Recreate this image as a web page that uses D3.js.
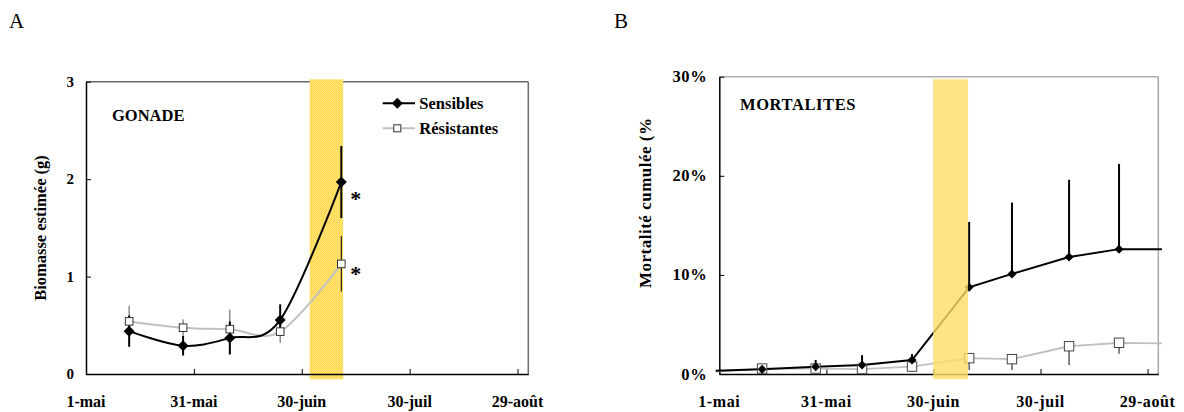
<!DOCTYPE html>
<html>
<head>
<meta charset="utf-8">
<script src="https://cdn.jsdelivr.net/npm/d3@7"></script>
<style>
  body { margin: 0; background: #fff; }
  svg { display: block; }
  text { font-family: "Liberation Serif", "Times New Roman", serif; }
</style>
</head>
<body>
<svg id="chart" width="1184" height="412"></svg>
<script>
// days counted from 1-mai
const tickDays = [0, 30, 60, 90, 120];
const tickLabels = ["1-mai", "31-mai", "30-juin", "30-juil", "29-août"];

// A : gonade biomass (g)
const gDays = [12, 27, 40, 54, 71];
const gSens = [0.44, 0.29, 0.37, 0.555, 1.97];
const gSensErr = [0.16, 0.10, 0.17, 0.16, 0.37];
const gRes = [0.54, 0.475, 0.46, 0.435, 1.13];
const gResErr = [0.16, 0.085, 0.20, 0.115, 0.285];
const gSignif = [false, false, false, false, true];
const gBand = [62.2, 71.5];

// B : cumulated mortality (%)
const mDays = [-1, 12, 27, 40, 54, 70, 82, 98, 112, 124];
const mSens = [0.33, 0.47, 0.72, 0.9, 1.41, 8.75, 10.1, 11.8, 12.6, 12.6];
const mSensErr = [0, 0.4, 0.7, 1.0, 0.6, 6.6, 7.2, 7.8, 8.6, 0];
const mRes = [0.25, 0.55, 0.55, 0.5, 0.75, 1.6, 1.5, 2.8, 3.15, 3.1];
const mResErr = [0, 0, 0, 0, 0, 1.2, 1.1, 1.9, 1.1, 0];
const mBand = [59.9, 69.7];

const svg = d3.select("#chart");
svg.append("rect").attr("width", 1184).attr("height", 412).attr("fill", "#fff");

// dithered yellow like the original export
const defs = svg.append("defs");
const pat = defs.append("pattern").attr("id", "band").attr("patternUnits", "userSpaceOnUse")
  .attr("width", 2).attr("height", 2);
pat.append("rect").attr("width", 2).attr("height", 2).attr("fill", "#ffe37c");
pat.append("rect").attr("width", 1).attr("height", 1).attr("fill", "#ffd84a");
pat.append("rect").attr("x", 1).attr("y", 1).attr("width", 1).attr("height", 1).attr("fill", "#ffd84a");

function panel(cfg) {
  const x = d3.scaleLinear().domain([0, 123]).range([cfg.left, cfg.right]);
  const y = d3.scaleLinear().domain([0, cfg.ymax]).range([cfg.bottom, cfg.top]);
  const g = svg.append("g");

  // frame
  g.append("line").attr("x1", cfg.left).attr("x2", cfg.right).attr("y1", cfg.top).attr("y2", cfg.top)
    .attr("stroke", cfg.frameTop).attr("stroke-width", 1.5);
  g.append("line").attr("x1", cfg.right).attr("x2", cfg.right).attr("y1", cfg.top).attr("y2", cfg.bottom)
    .attr("stroke", cfg.frameRight).attr("stroke-width", 1.5);

  const bandRect = () => g.append("rect")
    .attr("x", x(cfg.band[0])).attr("width", x(cfg.band[1]) - x(cfg.band[0]))
    .attr("y", 79.3).attr("height", 300);

  if (!cfg.bandOnTop) bandRect().attr("fill", "url(#band)");

  // axes
  g.append("g").attr("transform", "translate(0," + cfg.bottom + ")")
    .call(d3.axisBottom(x).tickValues(tickDays).tickSizeInner(-5).tickSizeOuter(0).tickFormat(""))
    .call(a => a.select(".domain").attr("stroke", "#000").attr("stroke-width", 1.5))
    .call(a => a.selectAll(".tick line").attr("stroke", "#000"));
  g.append("g").attr("transform", "translate(" + cfg.left + ",0)")
    .call(d3.axisLeft(y).tickValues(cfg.yticks).tickSizeInner(-5).tickSizeOuter(0).tickFormat(""))
    .call(a => a.select(".domain").attr("stroke", "#000").attr("stroke-width", 1.5))
    .call(a => a.selectAll(".tick line").attr("stroke", "#000"));

  g.selectAll(".xl").data(tickDays).enter().append("text")
    .attr("x", d => x(d)).attr("y", 401).attr("text-anchor", "middle").attr("dominant-baseline", "central")
    .attr("font-size", 16).attr("font-weight", "bold").attr("letter-spacing", cfg.ls)
    .text((d, i) => tickLabels[i]);
  g.selectAll(".yl").data(cfg.yticks).enter().append("text")
    .attr("x", cfg.left - 12).attr("y", d => y(d)).attr("text-anchor", "end").attr("dominant-baseline", "central")
    .attr("font-size", cfg.yfs).attr("font-weight", "bold").attr("letter-spacing", cfg.ls)
    .text(cfg.yfmt);

  return { g, x, y, bandRect };
}

function diamond(g, cx, cy, r) {
  g.append("path").attr("d", `M${cx},${cy - r}L${cx + r},${cy}L${cx},${cy + r}L${cx - r},${cy}Z`).attr("fill", "#000");
}

// ---------- Panel A ----------
const A = panel({ left: 86, right: 528.3, top: 81.7, bottom: 374, ymax: 3, yticks: [0, 1, 2, 3],
  yfmt: d => d, yfs: 15, ls: 0, band: gBand, frameTop: "#6b6b6b", frameRight: "#6b6b6b" });

// error bars
gDays.forEach((d, i) => {
  A.g.append("line").attr("x1", A.x(d)).attr("x2", A.x(d))
    .attr("y1", A.y(gRes[i] + gResErr[i])).attr("y2", A.y(gRes[i] - gResErr[i]))
    .attr("stroke", i === 4 ? "#000" : "#555").attr("stroke-width", 1);
  A.g.append("line").attr("x1", A.x(d)).attr("x2", A.x(d))
    .attr("y1", A.y(gSens[i] + gSensErr[i])).attr("y2", A.y(gSens[i] - gSensErr[i]))
    .attr("stroke", "#000").attr("stroke-width", 2);
});

const smooth = d3.curveCardinal.tension(0);
A.g.append("path").datum(gDays.map((d, i) => [d, gRes[i]]))
  .attr("fill", "none").attr("stroke", "#c0c0c0").attr("stroke-width", 2)
  .attr("d", d3.line().x(p => A.x(p[0])).y(p => A.y(p[1])).curve(smooth));
A.g.append("path").datum(gDays.map((d, i) => [d, gSens[i]]))
  .attr("fill", "none").attr("stroke", "#000").attr("stroke-width", 2)
  .attr("d", d3.line().x(p => A.x(p[0])).y(p => A.y(p[1])).curve(smooth));

gDays.forEach((d, i) => {
  A.g.append("rect").attr("x", A.x(d) - 3.8).attr("y", A.y(gRes[i]) - 3.8).attr("width", 7.6).attr("height", 7.6)
    .attr("fill", "#fff").attr("stroke", "#333").attr("stroke-width", 1);
  diamond(A.g, A.x(d), A.y(gSens[i]), 5.5);
  if (gSignif[i]) {
    A.g.append("text").attr("x", A.x(d) + 9).attr("y", A.y(gSens[i]) + 24).attr("font-size", 22)
      .attr("font-weight", "bold").text("*");
    A.g.append("text").attr("x", A.x(d) + 9).attr("y", A.y(gRes[i]) + 17).attr("font-size", 22)
      .attr("font-weight", "bold").text("*");
  }
});

A.g.append("text").attr("x", 112).attr("y", 121).attr("font-size", 16.5).attr("font-weight", "bold").text("GONADE");

// legend
const leg = A.g.append("g");
leg.append("line").attr("x1", 382.7).attr("x2", 415).attr("y1", 103.3).attr("y2", 103.3).attr("stroke", "#000").attr("stroke-width", 2);
diamond(leg, 397.3, 103.3, 5.5);
leg.append("line").attr("x1", 382.7).attr("x2", 415).attr("y1", 128.3).attr("y2", 128.3).attr("stroke", "#c0c0c0").attr("stroke-width", 2);
leg.append("rect").attr("x", 397.3 - 3.5).attr("y", 128.3 - 3.5).attr("width", 7).attr("height", 7)
  .attr("fill", "#fff").attr("stroke", "#333");
leg.append("text").attr("x", 419.3).attr("y", 103.3).attr("dominant-baseline", "central")
  .attr("font-size", 16.5).attr("font-weight", "bold").text("Sensibles");
leg.append("text").attr("x", 419.3).attr("y", 128.3).attr("dominant-baseline", "central")
  .attr("font-size", 16.5).attr("font-weight", "bold").text("Résistantes");

svg.append("text").attr("x", 40).attr("y", 228).attr("transform", "rotate(-90,40,228)")
  .attr("text-anchor", "middle").attr("dominant-baseline", "central")
  .attr("font-size", 16.5).attr("font-weight", "bold").text("Biomasse estimée (g)");

svg.append("text").attr("x", 9).attr("y", 28).attr("font-size", 21).text("A");

// ---------- Panel B ----------
const B = panel({ left: 719.3, right: 1158.3, top: 76.7, bottom: 374, ymax: 30, yticks: [0, 10, 20, 30],
  yfmt: d => d + "%", yfs: 16.5, ls: 0.6, band: mBand, bandOnTop: true, frameTop: "#b0b0b0", frameRight: "#a8a8a8" });

mDays.forEach((d, i) => {
  if (mSensErr[i] > 0)
    B.g.append("line").attr("x1", B.x(d)).attr("x2", B.x(d)).attr("y1", B.y(mSens[i] + mSensErr[i])).attr("y2", B.y(mSens[i]))
      .attr("stroke", "#000").attr("stroke-width", 2);
  if (mResErr[i] > 0)
    B.g.append("line").attr("x1", B.x(d)).attr("x2", B.x(d)).attr("y1", B.y(mRes[i])).attr("y2", B.y(mRes[i] - mResErr[i]))
      .attr("stroke", "#333").attr("stroke-width", 1.2);
});

B.g.append("path").datum(mDays.map((d, i) => [d, mRes[i]]))
  .attr("fill", "none").attr("stroke", "#c0c0c0").attr("stroke-width", 1.8)
  .attr("d", d3.line().x(p => B.x(p[0])).y(p => B.y(p[1])));
B.g.append("path").datum(mDays.map((d, i) => [d, mSens[i]]))
  .attr("fill", "none").attr("stroke", "#000").attr("stroke-width", 2)
  .attr("d", d3.line().x(p => B.x(p[0])).y(p => B.y(p[1])));

mDays.forEach((d, i) => {
  if (d < 0 || d > 123) return;
  B.g.append("rect").attr("x", B.x(d) - 4.7).attr("y", B.y(mRes[i]) - 4.7).attr("width", 9.4).attr("height", 9.4)
    .attr("fill", "#fff").attr("stroke", "#444").attr("stroke-width", 1);
  diamond(B.g, B.x(d), B.y(mSens[i]), 4.5);
});

B.bandRect().attr("fill", "url(#band)").attr("fill-opacity", 0.8);

B.g.append("text").attr("x", 740).attr("y", 110).attr("font-size", 16.5).attr("font-weight", "bold")
  .attr("letter-spacing", 0.6).text("MORTALITES");

// the title's top is cut off in the original figure
defs.append("clipPath").attr("id", "ttl").append("rect").attr("x", 620).attr("y", 119).attr("width", 60).attr("height", 200);
svg.append("g").attr("clip-path", "url(#ttl)")
  .append("text").attr("x", 645).attr("y", 288).attr("transform", "rotate(-90,645,288)")
  .attr("dominant-baseline", "central").attr("letter-spacing", 0.5)
  .attr("font-size", 17).attr("font-weight", "bold").text("Mortalité cumulée (%)");

svg.append("text").attr("x", 614).attr("y", 28).attr("font-size", 21).text("B");
</script>
</body>
</html>
